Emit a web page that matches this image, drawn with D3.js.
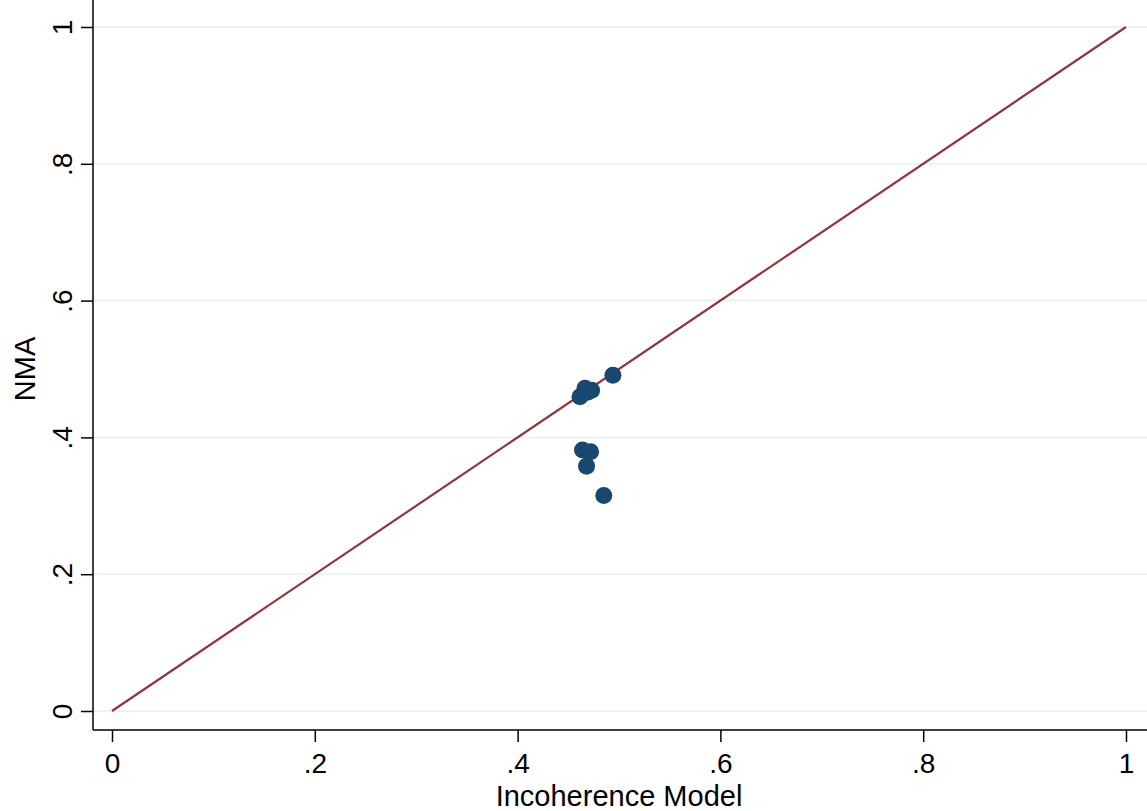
<!DOCTYPE html>
<html>
<head>
<meta charset="utf-8">
<script src="https://cdn.jsdelivr.net/npm/d3@7"></script>
<style>
  body { margin: 0; background: #fff; }
  text { font-family: "Liberation Sans", Arial, sans-serif; fill: #000; }
</style>
</head>
<body>
<div id="chart"></div>
<script>
// values
const incoherence = [0.494, 0.4615, 0.4665, 0.473, 0.469, 0.464, 0.472, 0.468, 0.485];
const nma         = [0.491, 0.4595, 0.472, 0.469, 0.466, 0.3816, 0.379, 0.358, 0.315];
const xTicks = [0, 0.2, 0.4, 0.6, 0.8, 1];
const yTicks = [0, 0.2, 0.4, 0.6, 0.8, 1];
const lineX = [0, 1];

const fmt = d => d === 0 ? "0" : d === 1 ? "1" : String(d).replace(/^0/, "");

const svg = d3.select("#chart").append("svg")
    .attr("width", 1147).attr("height", 811);

const x = d3.scaleLinear().domain([0, 1]).range([112, 1126]);
const y = d3.scaleLinear().domain([0, 1]).range([711, 27]);

// grid
svg.append("g")
    .selectAll("line")
    .data(yTicks)
    .join("line")
    .attr("x1", 93).attr("x2", 1147)
    .attr("y1", d => y(d)).attr("y2", d => y(d))
    .attr("stroke", "#eaf2f3").attr("stroke-width", 2);

// x axis
svg.append("g")
    .attr("transform", "translate(0, 730)")
    .call(d3.axisBottom(x).tickValues(xTicks).tickFormat(fmt).tickSize(12).tickPadding(11))
    .call(g => g.select(".domain").attr("d", "M93,0H1147").attr("stroke-width", 1.5))
    .call(g => g.selectAll(".tick line").attr("stroke-width", 1.5))
    .call(g => g.selectAll("text").style("font-size", "28px").attr("fill", "#000"));

// y axis
svg.append("g")
    .attr("transform", "translate(93, 0)")
    .call(d3.axisLeft(y).tickValues(yTicks).tickFormat(fmt).tickSize(12).tickPadding(0))
    .call(g => g.select(".domain").attr("d", "M0,0V730").attr("stroke-width", 1.5))
    .call(g => g.selectAll(".tick line").attr("stroke-width", 1.5))
    .call(g => g.selectAll("text")
        .style("font-size", "28px").attr("fill", "#000")
        .attr("x", 0).attr("dy", 0)
        .attr("text-anchor", "middle")
        .attr("transform", "translate(-21, 0) rotate(-90)"));

// titles
svg.append("text")
    .attr("x", x(0.5)).attr("y", 806)
    .attr("text-anchor", "middle")
    .style("font-size", "29px")
    .text("Incoherence Model");

svg.append("text")
    .attr("transform", `translate(35, ${y(0.5)}) rotate(-90)`)
    .attr("text-anchor", "middle")
    .style("font-size", "29px")
    .text("NMA");

// line of equality
svg.append("path")
    .datum(lineX)
    .attr("d", d3.line().x(d => x(d)).y(d => y(d)))
    .attr("stroke", "#90353b").attr("stroke-width", 2.2).attr("fill", "none");

// points
svg.append("g")
    .selectAll("circle")
    .data(incoherence.map((v, i) => [v, nma[i]]))
    .join("circle")
    .attr("cx", d => x(d[0])).attr("cy", d => y(d[1]))
    .attr("r", 8.5)
    .attr("fill", "#1a476f");
</script>
</body>
</html>
